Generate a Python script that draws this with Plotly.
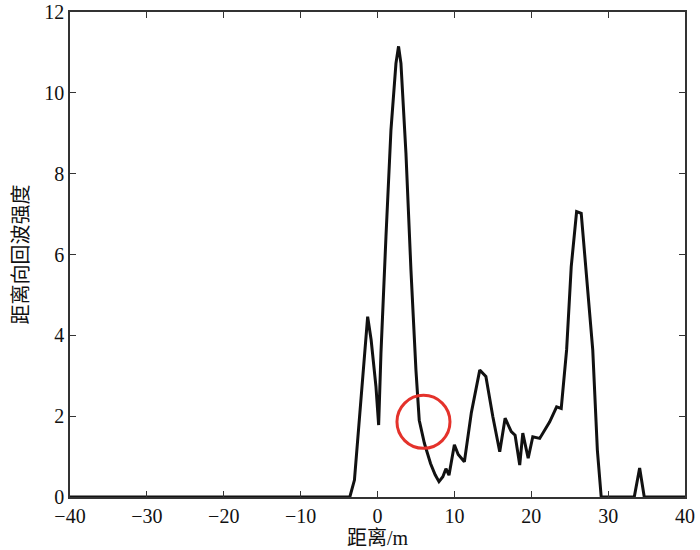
import plotly.graph_objects as go

distance = [-40, -3.6, -3.0, -2.35, -1.7, -1.28, -0.83, -0.2, 0.15, 0.45, 1.1, 1.75,
            2.4, 2.74, 3.05, 3.7, 4.35, 5.0, 5.43, 6.1, 6.9, 7.5, 8.0, 8.5, 8.9, 9.3,
            10.0, 10.5, 11.3, 12.2, 13.3, 14.1, 15.0, 15.5, 15.9, 16.6, 17.4, 17.9,
            18.5, 18.9, 19.6, 20.2, 21.1, 22.4, 23.3, 23.9, 24.6, 25.2, 25.9, 26.5,
            27.1, 28.0, 28.6, 29.1, 33.4, 34.1, 34.7, 40]
intensity = [0, 0, 0.42, 1.9, 3.56, 4.46, 3.89, 2.73, 1.78, 3.56, 6.44, 9.08,
             10.73, 11.15, 10.73, 8.51, 5.62, 3.14, 1.9, 1.33, 0.83, 0.55, 0.38, 0.5, 0.7, 0.54,
             1.29, 1.05, 0.87, 2.08, 3.14, 2.98, 1.99, 1.55, 1.12, 1.95, 1.62, 1.53,
             0.79, 1.58, 0.96, 1.49, 1.45, 1.86, 2.23, 2.19, 3.64, 5.7, 7.06, 7.02,
             5.7, 3.64, 1.16, 0, 0, 0.72, 0, 0]

circle_center = (5.98, 1.86)
circle_rx = 3.45
circle_ry = 0.656

x_ticks = [-40, -30, -20, -10, 0, 10, 20, 30, 40]
x_labels = ["\u221240", "\u221230", "\u221220", "\u221210", "0", "10", "20", "30", "40"]
y_ticks = [0, 2, 4, 6, 8, 10, 12]

font_family = "Liberation Serif"
cjk_family = "Liberation Serif, Noto Sans CJK SC"

fig = go.Figure()
fig.add_trace(go.Scatter(x=distance, y=intensity, mode="lines",
                         line=dict(color="#111111", width=3), showlegend=False))

fig.add_shape(type="circle", xref="x", yref="y",
              x0=circle_center[0] - circle_rx, x1=circle_center[0] + circle_rx,
              y0=circle_center[1] - circle_ry, y1=circle_center[1] + circle_ry,
              line=dict(color="#e4322b", width=3))

axis_common = dict(showgrid=False, zeroline=False, showline=True, linecolor="#333333",
                   linewidth=1.5, mirror="ticks", ticks="inside", ticklen=6,
                   tickcolor="#333333", tickwidth=1, automargin=False)

fig.update_xaxes(range=[-40, 40], tickvals=x_ticks, ticktext=x_labels,
                 title=dict(text="距离/m", font=dict(size=20, family=cjk_family, color="#111"), standoff=0),
                 tickfont=dict(size=20, family=font_family, color="#111"), **axis_common)
fig.update_yaxes(range=[0, 12], tickvals=y_ticks,
                 title=dict(text="距离向回波强度", font=dict(size=20, family=cjk_family, color="#111"), standoff=10),
                 tickfont=dict(size=20, family=font_family, color="#111"), **axis_common)

fig.update_layout(width=700, height=550, margin=dict(l=70, r=15, t=12, b=53),
                  plot_bgcolor="white", paper_bgcolor="white",
                  font=dict(family=font_family))

fig.write_html("out.html", config={"displayModeBar": False},
               post_script="document.body.style.margin='0';")
